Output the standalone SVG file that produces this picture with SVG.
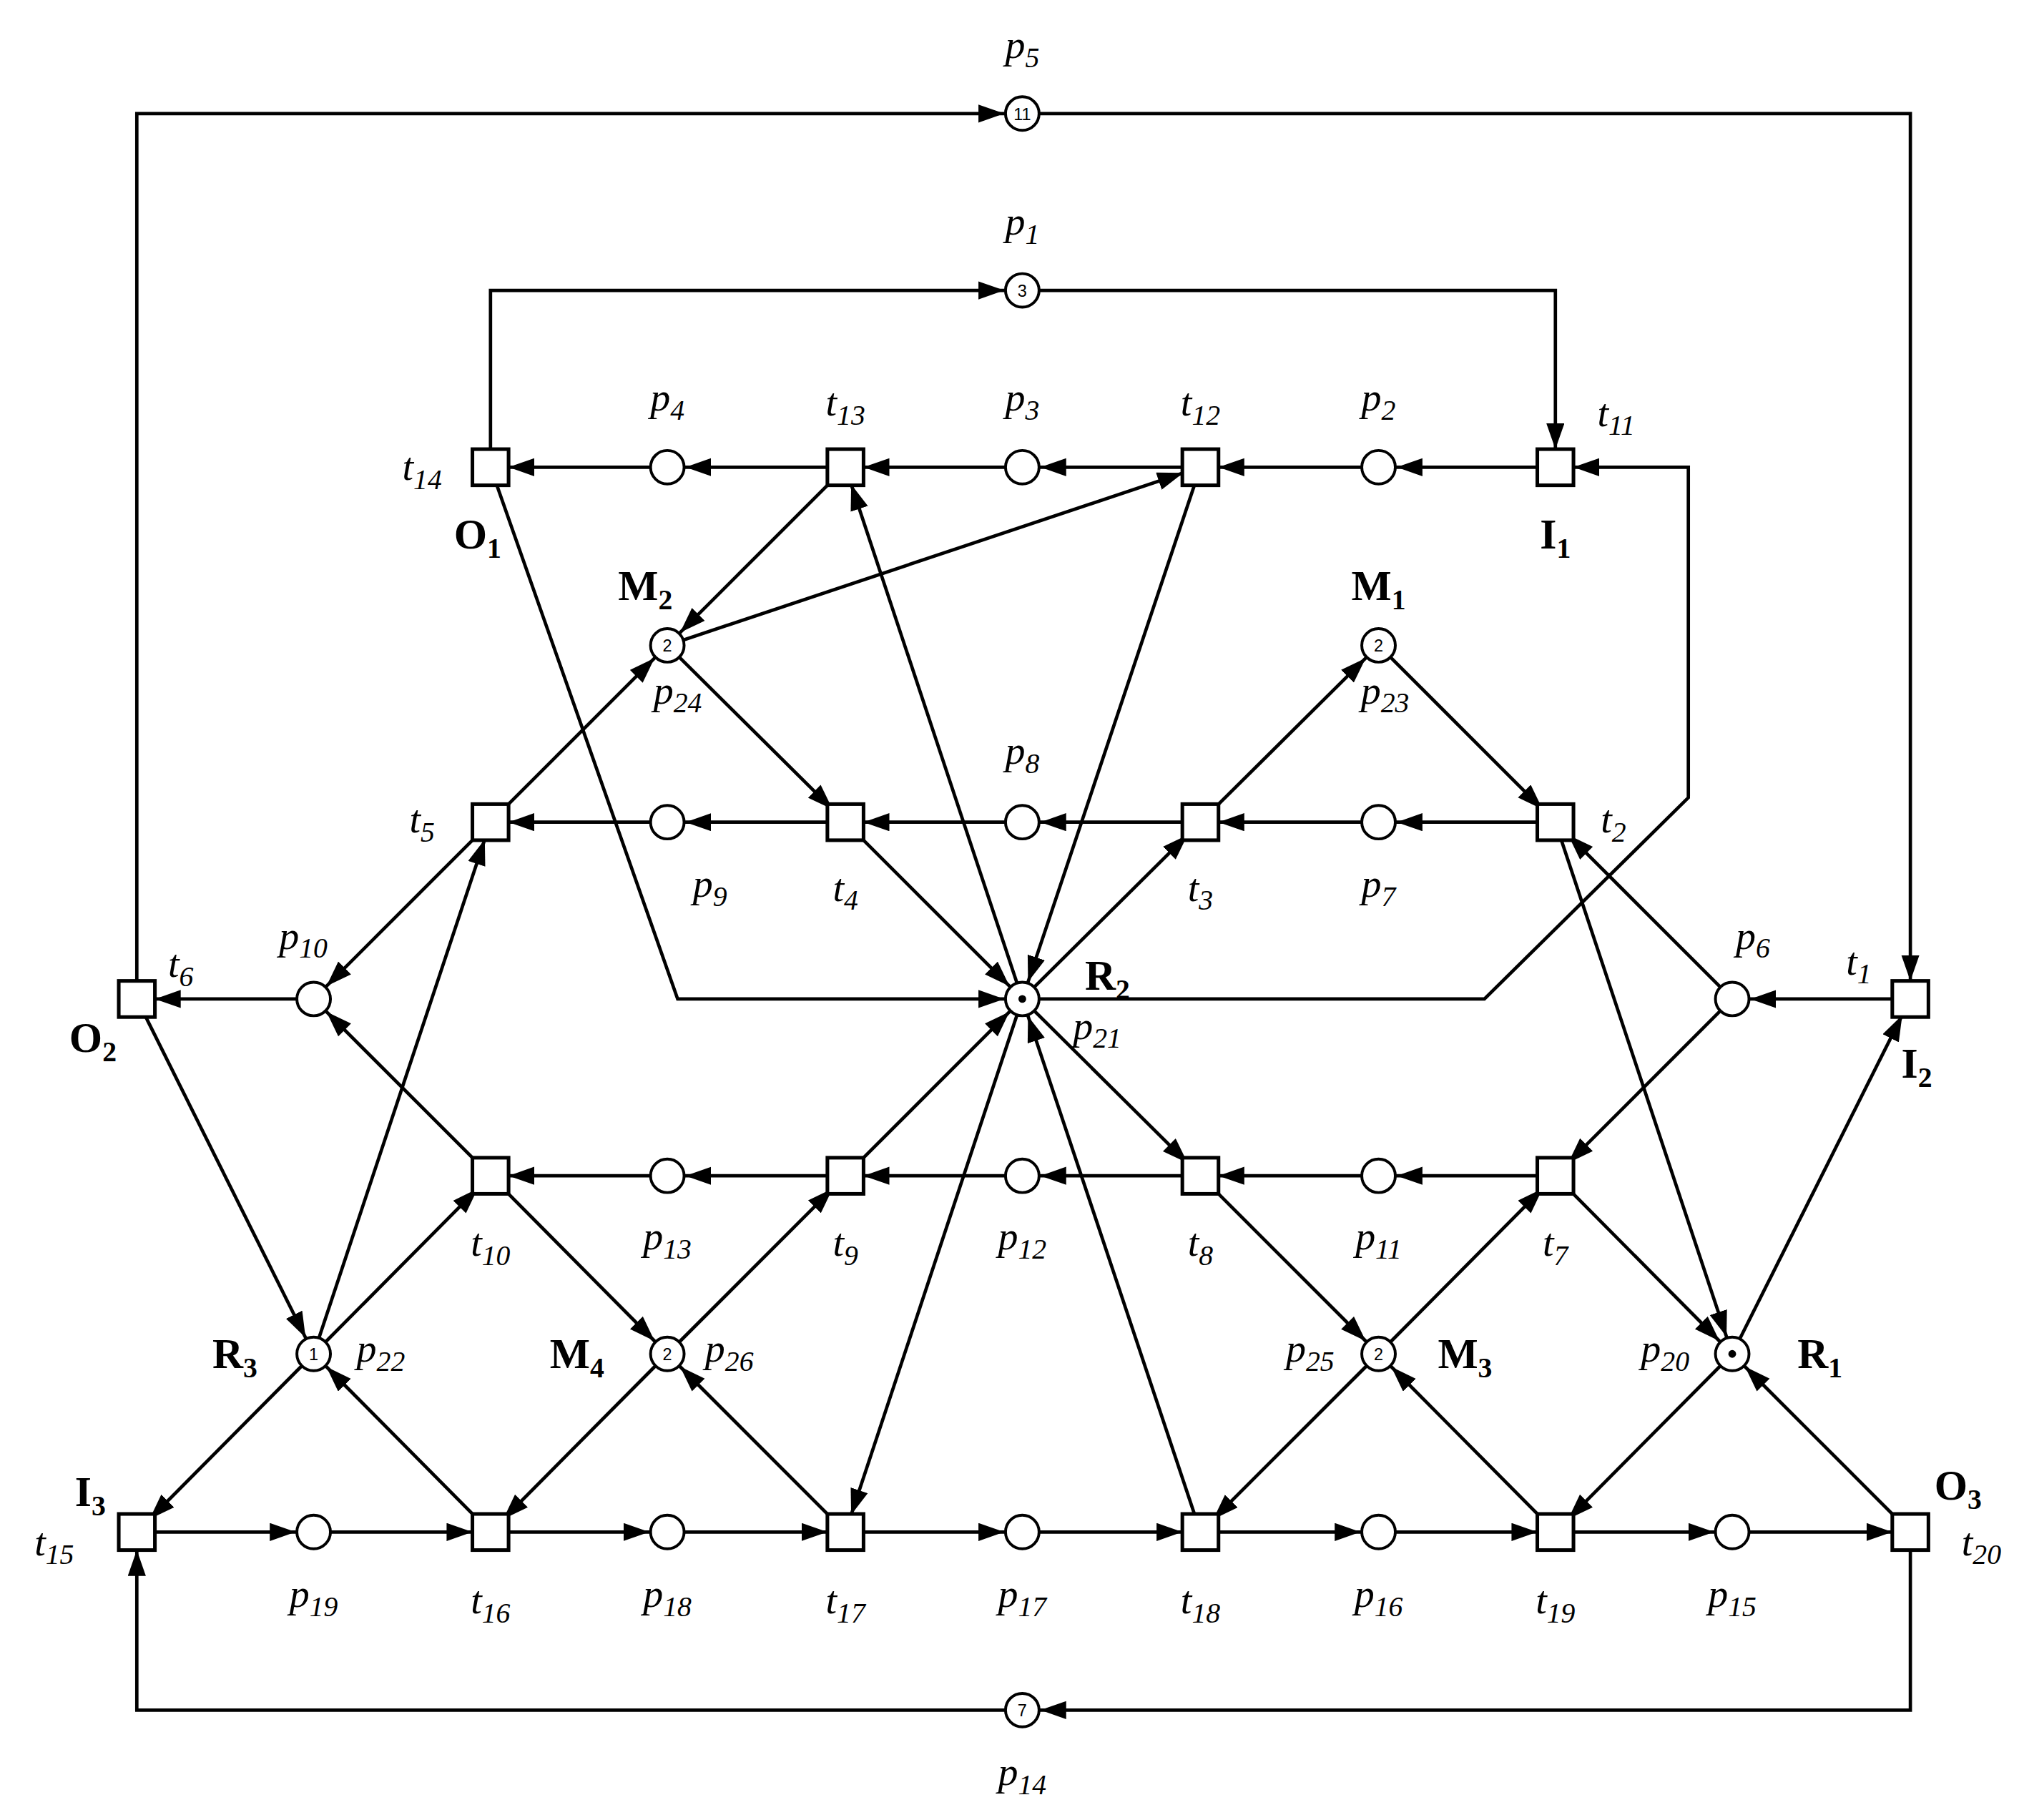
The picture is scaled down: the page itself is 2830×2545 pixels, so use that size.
<svg xmlns="http://www.w3.org/2000/svg" width="2830" height="2545" viewBox="0 0 2830 2545">
<style>
.c{fill:none;stroke:#000;stroke-width:2.6;marker-end:url(#a)}
.pl{fill:#fff;stroke:#000;stroke-width:2.2}
.tr{fill:#fff;stroke:#000;stroke-width:2.8}
.l{font-family:"Liberation Serif",serif;font-style:italic;font-size:31px;text-anchor:middle}
.b{font-family:"Liberation Serif",serif;font-weight:bold;font-size:33px;text-anchor:middle}
.s{font-size:22px}
.k{font-family:"Liberation Sans",sans-serif;font-size:13px;text-anchor:middle}
</style>
<defs><marker id="a" markerUnits="userSpaceOnUse" markerWidth="40" markerHeight="16" refX="34" refY="7" orient="auto"><path d="M0,0 L20,7 L0,14 z" fill="#000"/></marker></defs>
<rect width="2830" height="2545" fill="#fff"/>
<g transform="scale(1.8048)">
<g id="connectors">
<path class="c" d="M106,774 V88 H792"/><path class="c" d="M792,88 H1480 V774"/>
<path class="c" d="M380,362 V225 H792"/><path class="c" d="M792,225 H1205 V362"/>
<path class="c" d="M1480,1187 V1325 H792"/><path class="c" d="M792,1325 H106 V1187"/>
<path class="c" d="M380,362 L525,774 H792"/>
<path class="c" d="M792,774 H1150 L1308,618 V362 H1205"/>
<path class="c" d="M1205,362 H1068"/><path class="c" d="M1068,362 H930"/><path class="c" d="M930,362 H792"/><path class="c" d="M792,362 H655"/><path class="c" d="M655,362 H517"/><path class="c" d="M517,362 H380"/>
<path class="c" d="M1205,637 H1068"/><path class="c" d="M1068,637 H930"/><path class="c" d="M930,637 H792"/><path class="c" d="M792,637 H655"/><path class="c" d="M655,637 H517"/><path class="c" d="M517,637 H380"/>
<path class="c" d="M1480,774 H1342"/><path class="c" d="M243,774 H106"/>
<path class="c" d="M1205,911 H1068"/><path class="c" d="M1068,911 H930"/><path class="c" d="M930,911 H792"/><path class="c" d="M792,911 H655"/><path class="c" d="M655,911 H517"/><path class="c" d="M517,911 H380"/>
<path class="c" d="M106,1187 H243"/><path class="c" d="M243,1187 H380"/><path class="c" d="M380,1187 H517"/><path class="c" d="M517,1187 H655"/><path class="c" d="M655,1187 H792"/><path class="c" d="M792,1187 H930"/><path class="c" d="M930,1187 H1068"/><path class="c" d="M1068,1187 H1205"/><path class="c" d="M1205,1187 H1342"/><path class="c" d="M1342,1187 H1480"/>
<path class="c" d="M655,362 L517,500"/><path class="c" d="M517,500 L930,362"/><path class="c" d="M380,637 L517,500"/><path class="c" d="M517,500 L655,637"/>
<path class="c" d="M930,637 L1068,500"/><path class="c" d="M1068,500 L1205,637"/>
<path class="c" d="M792,774 L655,362"/><path class="c" d="M930,362 L792,774"/>
<path class="c" d="M655,637 L792,774"/><path class="c" d="M792,774 L930,637"/>
<path class="c" d="M792,774 L930,911"/><path class="c" d="M655,911 L792,774"/>
<path class="c" d="M792,774 L655,1187"/><path class="c" d="M930,1187 L792,774"/>
<path class="c" d="M1205,637 L1342,1049"/><path class="c" d="M1342,774 L1205,637"/><path class="c" d="M1342,774 L1205,911"/><path class="c" d="M1205,911 L1342,1049"/>
<path class="c" d="M1342,1049 L1480,774"/><path class="c" d="M1342,1049 L1205,1187"/><path class="c" d="M1480,1187 L1342,1049"/>
<path class="c" d="M930,911 L1068,1049"/><path class="c" d="M1068,1049 L1205,911"/><path class="c" d="M1068,1049 L930,1187"/><path class="c" d="M1205,1187 L1068,1049"/>
<path class="c" d="M517,1049 L655,911"/><path class="c" d="M380,911 L517,1049"/><path class="c" d="M517,1049 L380,1187"/><path class="c" d="M655,1187 L517,1049"/>
<path class="c" d="M106,774 L243,1049"/><path class="c" d="M243,1049 L380,637"/><path class="c" d="M243,1049 L380,911"/><path class="c" d="M380,1187 L243,1049"/><path class="c" d="M243,1049 L106,1187"/>
<path class="c" d="M380,637 L243,774"/><path class="c" d="M380,911 L243,774"/>
</g>
<g id="places">
<g id="p5"><circle class="pl" cx="792" cy="88" r="13"/><text class="k" x="792" y="93">11</text></g>
<g id="p1"><circle class="pl" cx="792" cy="225" r="13"/><text class="k" x="792" y="230">3</text></g>
<g id="p14"><circle class="pl" cx="792" cy="1325" r="13"/><text class="k" x="792" y="1330">7</text></g>
<g id="p2"><circle class="pl" cx="1068" cy="362" r="13"/></g>
<g id="p3"><circle class="pl" cx="792" cy="362" r="13"/></g>
<g id="p4"><circle class="pl" cx="517" cy="362" r="13"/></g>
<g id="p24"><circle class="pl" cx="517" cy="500" r="13"/><text class="k" x="517" y="505">2</text></g>
<g id="p23"><circle class="pl" cx="1068" cy="500" r="13"/><text class="k" x="1068" y="505">2</text></g>
<g id="p7"><circle class="pl" cx="1068" cy="637" r="13"/></g>
<g id="p8"><circle class="pl" cx="792" cy="637" r="13"/></g>
<g id="p9"><circle class="pl" cx="517" cy="637" r="13"/></g>
<g id="p10"><circle class="pl" cx="243" cy="774" r="13"/></g>
<g id="p21"><circle class="pl" cx="792" cy="774" r="13"/><circle cx="792" cy="774" r="3"/></g>
<g id="p6"><circle class="pl" cx="1342" cy="774" r="13"/></g>
<g id="p11"><circle class="pl" cx="1068" cy="911" r="13"/></g>
<g id="p12"><circle class="pl" cx="792" cy="911" r="13"/></g>
<g id="p13"><circle class="pl" cx="517" cy="911" r="13"/></g>
<g id="p22"><circle class="pl" cx="243" cy="1049" r="13"/><text class="k" x="243" y="1054">1</text></g>
<g id="p26"><circle class="pl" cx="517" cy="1049" r="13"/><text class="k" x="517" y="1054">2</text></g>
<g id="p25"><circle class="pl" cx="1068" cy="1049" r="13"/><text class="k" x="1068" y="1054">2</text></g>
<g id="p20"><circle class="pl" cx="1342" cy="1049" r="13"/><circle cx="1342" cy="1049" r="3"/></g>
<g id="p19"><circle class="pl" cx="243" cy="1187" r="13"/></g>
<g id="p18"><circle class="pl" cx="517" cy="1187" r="13"/></g>
<g id="p17"><circle class="pl" cx="792" cy="1187" r="13"/></g>
<g id="p16"><circle class="pl" cx="1068" cy="1187" r="13"/></g>
<g id="p15"><circle class="pl" cx="1342" cy="1187" r="13"/></g>
</g>
<g id="transitions">
<rect id="t14" class="tr" x="366" y="348" width="28" height="28"/>
<rect id="t13" class="tr" x="641" y="348" width="28" height="28"/>
<rect id="t12" class="tr" x="916" y="348" width="28" height="28"/>
<rect id="t11" class="tr" x="1191" y="348" width="28" height="28"/>
<rect id="t5" class="tr" x="366" y="623" width="28" height="28"/>
<rect id="t4" class="tr" x="641" y="623" width="28" height="28"/>
<rect id="t3" class="tr" x="916" y="623" width="28" height="28"/>
<rect id="t2" class="tr" x="1191" y="623" width="28" height="28"/>
<rect id="t6" class="tr" x="92" y="760" width="28" height="28"/>
<rect id="t1" class="tr" x="1466" y="760" width="28" height="28"/>
<rect id="t10" class="tr" x="366" y="897" width="28" height="28"/>
<rect id="t9" class="tr" x="641" y="897" width="28" height="28"/>
<rect id="t8" class="tr" x="916" y="897" width="28" height="28"/>
<rect id="t7" class="tr" x="1191" y="897" width="28" height="28"/>
<rect id="t15" class="tr" x="92" y="1173" width="28" height="28"/>
<rect id="t16" class="tr" x="366" y="1173" width="28" height="28"/>
<rect id="t17" class="tr" x="641" y="1173" width="28" height="28"/>
<rect id="t18" class="tr" x="916" y="1173" width="28" height="28"/>
<rect id="t19" class="tr" x="1191" y="1173" width="28" height="28"/>
<rect id="t20" class="tr" x="1466" y="1173" width="28" height="28"/>
</g>
<g id="labels">
<text class="l" x="792" y="45">p<tspan class="s" dy="7">5</tspan></text>
<text class="l" x="792" y="182">p<tspan class="s" dy="7">1</tspan></text>
<text class="l" x="792" y="1383">p<tspan class="s" dy="7">14</tspan></text>
<text class="l" x="517" y="318">p<tspan class="s" dy="7">4</tspan></text>
<text class="l" x="655" y="322">t<tspan class="s" dy="7">13</tspan></text>
<text class="l" x="792" y="318">p<tspan class="s" dy="7">3</tspan></text>
<text class="l" x="930" y="322">t<tspan class="s" dy="7">12</tspan></text>
<text class="l" x="1068" y="318">p<tspan class="s" dy="7">2</tspan></text>
<text class="l" x="1252" y="330">t<tspan class="s" dy="7">11</tspan></text>
<text class="l" x="327" y="372">t<tspan class="s" dy="7">14</tspan></text>
<text class="b" x="370" y="425">O<tspan class="s" dy="7">1</tspan></text>
<text class="b" x="1205" y="425">I<tspan class="s" dy="7">1</tspan></text>
<text class="b" x="500" y="465">M<tspan class="s" dy="7">2</tspan></text>
<text class="b" x="1068" y="465">M<tspan class="s" dy="7">1</tspan></text>
<text class="l" x="525" y="545">p<tspan class="s" dy="7">24</tspan></text>
<text class="l" x="1073" y="545">p<tspan class="s" dy="7">23</tspan></text>
<text class="l" x="792" y="592">p<tspan class="s" dy="7">8</tspan></text>
<text class="l" x="327" y="645">t<tspan class="s" dy="7">5</tspan></text>
<text class="l" x="1250" y="645">t<tspan class="s" dy="7">2</tspan></text>
<text class="l" x="550" y="695">p<tspan class="s" dy="7">9</tspan></text>
<text class="l" x="655" y="698">t<tspan class="s" dy="7">4</tspan></text>
<text class="l" x="930" y="698">t<tspan class="s" dy="7">3</tspan></text>
<text class="l" x="1068" y="695">p<tspan class="s" dy="7">7</tspan></text>
<text class="l" x="235" y="735">p<tspan class="s" dy="7">10</tspan></text>
<text class="l" x="140" y="757">t<tspan class="s" dy="7">6</tspan></text>
<text class="b" x="72" y="815">O<tspan class="s" dy="7">2</tspan></text>
<text class="b" x="858" y="767">R<tspan class="s" dy="7">2</tspan></text>
<text class="l" x="850" y="805">p<tspan class="s" dy="7">21</tspan></text>
<text class="l" x="1358" y="735">p<tspan class="s" dy="7">6</tspan></text>
<text class="l" x="1440" y="755">t<tspan class="s" dy="7">1</tspan></text>
<text class="b" x="1485" y="835">I<tspan class="s" dy="7">2</tspan></text>
<text class="l" x="380" y="973">t<tspan class="s" dy="7">10</tspan></text>
<text class="l" x="517" y="968">p<tspan class="s" dy="7">13</tspan></text>
<text class="l" x="655" y="973">t<tspan class="s" dy="7">9</tspan></text>
<text class="l" x="792" y="968">p<tspan class="s" dy="7">12</tspan></text>
<text class="l" x="930" y="973">t<tspan class="s" dy="7">8</tspan></text>
<text class="l" x="1068" y="968">p<tspan class="s" dy="7">11</tspan></text>
<text class="l" x="1205" y="973">t<tspan class="s" dy="7">7</tspan></text>
<text class="b" x="182" y="1060">R<tspan class="s" dy="7">3</tspan></text>
<text class="l" x="295" y="1055">p<tspan class="s" dy="7">22</tspan></text>
<text class="b" x="447" y="1060">M<tspan class="s" dy="7">4</tspan></text>
<text class="l" x="565" y="1055">p<tspan class="s" dy="7">26</tspan></text>
<text class="l" x="1015" y="1055">p<tspan class="s" dy="7">25</tspan></text>
<text class="b" x="1135" y="1060">M<tspan class="s" dy="7">3</tspan></text>
<text class="l" x="1290" y="1055">p<tspan class="s" dy="7">20</tspan></text>
<text class="b" x="1410" y="1060">R<tspan class="s" dy="7">1</tspan></text>
<text class="b" x="70" y="1167">I<tspan class="s" dy="7">3</tspan></text>
<text class="l" x="42" y="1205">t<tspan class="s" dy="7">15</tspan></text>
<text class="b" x="1517" y="1162">O<tspan class="s" dy="7">3</tspan></text>
<text class="l" x="1535" y="1205">t<tspan class="s" dy="7">20</tspan></text>
<text class="l" x="243" y="1245">p<tspan class="s" dy="7">19</tspan></text>
<text class="l" x="380" y="1250">t<tspan class="s" dy="7">16</tspan></text>
<text class="l" x="517" y="1245">p<tspan class="s" dy="7">18</tspan></text>
<text class="l" x="655" y="1250">t<tspan class="s" dy="7">17</tspan></text>
<text class="l" x="792" y="1245">p<tspan class="s" dy="7">17</tspan></text>
<text class="l" x="930" y="1250">t<tspan class="s" dy="7">18</tspan></text>
<text class="l" x="1068" y="1245">p<tspan class="s" dy="7">16</tspan></text>
<text class="l" x="1205" y="1250">t<tspan class="s" dy="7">19</tspan></text>
<text class="l" x="1342" y="1245">p<tspan class="s" dy="7">15</tspan></text>
</g>
</g>
</svg>
